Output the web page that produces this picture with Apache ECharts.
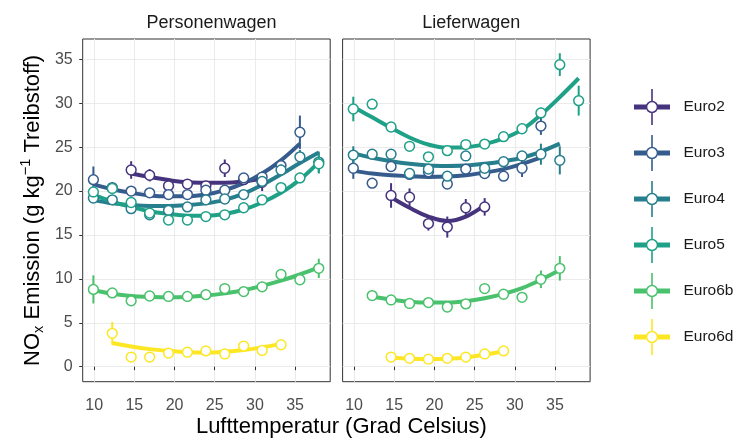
<!DOCTYPE html>
<html>
<head>
<meta charset="utf-8">
<script src="https://cdn.jsdelivr.net/npm/echarts@6/dist/echarts.min.js"></script>
<style>
html,body{margin:0;padding:0;background:#fff;}
#chart{width:744px;height:439px;}
</style>
</head>
<body>
<div id="chart"></div>
<script>
// ---- data ----
const temps = [9.9, 12.25, 14.6, 16.9, 19.25, 21.6, 23.9, 26.25, 28.6, 30.9, 33.25, 35.6, 37.95];
const classes = ['Euro2', 'Euro3', 'Euro4', 'Euro5', 'Euro6b', 'Euro6d'];
const facets = ['Personenwagen', 'Lieferwagen'];
const xTicks = [10, 15, 20, 25, 30, 35];
const yTicks = [0, 5, 10, 15, 20, 25, 30, 35];

// Personenwagen
const pwEuro2    = [null, null, 22.4, 21.8, 20.6, 20.8, 20.6, 22.6, 21.3, 21.0, null, null, null];
const pwEuro2Err = [null, null, 1.0, 0.7, 0.5, 0.5, 0.5, 1.0, 0.6, 1.0, null, null, null];
const pwEuro2Fit = [null, null, 22.0, 21.6, 21.25, 21.0, 20.95, 20.95, 21.1, 21.4, null, null, null];

const pwEuro3    = [21.3, 20.4, 20.0, 19.8, 19.6, 19.6, 20.1, 20.1, 21.5, 21.6, 22.9, 26.7, null];
const pwEuro3Err = [1.5, 0.5, 0.4, 0.4, 0.4, 0.4, 0.4, 0.5, 0.5, 0.6, 0.7, 1.9, null];
const pwEuro3Fit = [20.8, 20.2, 19.8, 19.5, 19.4, 19.4, 19.6, 20.1, 20.9, 22.0, 23.5, 25.4, null];

const pwEuro4    = [19.2, 19.0, 18.0, 17.3, 17.8, 18.2, 19.0, 19.1, 19.6, 21.1, 22.4, 23.9, 23.3];
const pwEuro4Err = [0.5, 0.4, 0.4, 0.4, 0.4, 0.4, 0.4, 0.4, 0.4, 0.5, 0.6, 0.8, 1.2];
const pwEuro4Fit = [19.0, 18.6, 18.4, 18.3, 18.3, 18.4, 18.6, 19.0, 19.7, 20.7, 21.9, 23.2, 24.4];

const pwEuro5    = [19.9, 20.3, 18.7, 17.5, 16.7, 16.7, 17.1, 17.3, 18.1, 19.0, 20.4, 21.5, 23.1];
const pwEuro5Err = [0.6, 0.5, 0.4, 0.4, 0.3, 0.3, 0.3, 0.3, 0.4, 0.4, 0.5, 0.6, 1.1];
const pwEuro5Fit = [19.6, 18.8, 18.2, 17.7, 17.4, 17.2, 17.2, 17.4, 17.9, 18.7, 19.8, 21.3, 23.3];

const pwEuro6b    = [8.8, 8.4, 7.5, 8.05, 8.0, 8.0, 8.2, 8.9, 8.55, 9.1, 10.5, 9.9, 11.2];
const pwEuro6bErr = [1.6, 0.4, 0.3, 0.3, 0.3, 0.3, 0.3, 0.3, 0.3, 0.4, 0.5, 0.5, 1.1];
const pwEuro6bFit = [8.7, 8.3, 8.05, 7.95, 7.9, 7.95, 8.1, 8.35, 8.7, 9.2, 9.8, 10.5, 11.3];

const pwEuro6d    = [null, 3.8, 1.1, 1.1, 1.55, 1.65, 1.8, 1.45, 2.35, 1.85, 2.5, null, null];
const pwEuro6dErr = [null, 1.3, 0.3, 0.3, 0.3, 0.3, 0.3, 0.3, 0.3, 0.3, 0.4, null, null];
const pwEuro6dFit = [null, 2.7, 2.3, 2.0, 1.8, 1.65, 1.6, 1.7, 1.9, 2.2, 2.6, null, null];

// Lieferwagen
const lwEuro2    = [null, null, 19.5, 19.3, 16.3, 15.9, 18.1, 18.2, null, null, null, null, null];
const lwEuro2Err = [null, null, 1.4, 1.0, 0.8, 1.2, 1.0, 1.0, null, null, null, null, null];
const lwEuro2Fit = [null, null, 19.3, 18.1, 17.1, 16.6, 17.1, 18.4, null, null, null, null, null];

const lwEuro3    = [22.6, 20.9, 22.8, 21.9, 22.2, 20.8, 22.5, 22.0, 21.7, 22.6, 27.4, null, null];
const lwEuro3Err = [1.2, 0.5, 0.4, 0.4, 0.4, 0.5, 0.4, 0.4, 0.4, 1.0, 1.0, null, null];
const lwEuro3Fit = [22.3, 22.0, 21.8, 21.7, 21.6, 21.65, 21.8, 22.1, 22.5, 23.1, 23.8, null, null];

const lwEuro4    = [24.1, 24.2, 24.2, 22.0, 22.5, 21.7, 24.0, 22.6, 23.35, 24.0, 24.2, 23.5, null];
const lwEuro4Err = [1.0, 0.4, 0.4, 0.4, 0.4, 0.4, 0.4, 0.4, 0.4, 0.5, 1.2, 1.6, null];
const lwEuro4Fit = [24.3, 23.8, 23.4, 23.1, 22.9, 22.85, 22.9, 23.1, 23.4, 23.8, 24.5, 25.4, null];

const lwEuro5    = [29.35, 29.9, 27.3, 25.1, 23.9, 24.6, 25.3, 25.35, 26.2, 27.1, 28.9, 34.4, 30.3];
const lwEuro5Err = [1.4, 0.4, 0.4, 0.4, 0.4, 0.4, 0.4, 0.4, 0.4, 0.4, 0.6, 1.3, 1.7];
const lwEuro5Fit = [29.6, 28.4, 27.2, 26.1, 25.3, 24.95, 25.0, 25.35, 26.0, 27.0, 28.7, 30.7, 32.85];

const lwEuro6b    = [null, 8.1, 7.6, 7.2, 7.3, 6.8, 7.15, 8.9, 8.25, 7.9, 9.95, 11.2, null];
const lwEuro6bErr = [null, 0.6, 0.3, 0.3, 0.3, 0.3, 0.3, 0.4, 0.4, 0.4, 1.0, 1.4, null];
const lwEuro6bFit = [null, 8.0, 7.65, 7.4, 7.3, 7.3, 7.45, 7.8, 8.3, 8.95, 9.9, 11.0, null];

const lwEuro6d    = [null, null, 1.1, 0.95, 0.85, 0.95, 1.1, 1.45, 1.8, null, null, null, null];
const lwEuro6dErr = [null, null, 0.3, 0.3, 0.3, 0.3, 0.3, 0.3, 0.4, null, null, null, null];
const lwEuro6dFit = [null, null, 1.05, 0.9, 0.85, 0.9, 1.05, 1.35, 1.75, null, null, null, null];

// ---- assemble ----
const colors = ['#46337E', '#365C8D', '#277F8E', '#1FA187', '#4AC16D', '#FDE725'];
const table = [
  [[pwEuro2, pwEuro2Err, pwEuro2Fit], [pwEuro3, pwEuro3Err, pwEuro3Fit], [pwEuro4, pwEuro4Err, pwEuro4Fit],
   [pwEuro5, pwEuro5Err, pwEuro5Fit], [pwEuro6b, pwEuro6bErr, pwEuro6bFit], [pwEuro6d, pwEuro6dErr, pwEuro6dFit]],
  [[lwEuro2, lwEuro2Err, lwEuro2Fit], [lwEuro3, lwEuro3Err, lwEuro3Fit], [lwEuro4, lwEuro4Err, lwEuro4Fit],
   [lwEuro5, lwEuro5Err, lwEuro5Fit], [lwEuro6b, lwEuro6bErr, lwEuro6bFit], [lwEuro6d, lwEuro6dErr, lwEuro6dFit]]
];

const FONT = '"Liberation Sans", Arial, Helvetica, sans-serif';
const pointSeries = [];
const lineSeries = [];
facets.forEach((f, fi) => {
  classes.forEach((c, ci) => {
    const [vals, errs, fits] = table[fi][ci];
    const col = colors[ci];
    const pts = [];
    const fitPts = [];
    temps.forEach((t, i) => {
      if (vals[i] != null) pts.push([t, vals[i], errs[i]]);
      if (fits[i] != null) fitPts.push([t, fits[i]]);
    });
    pointSeries.push({
      type: 'custom', name: c, xAxisIndex: fi, yAxisIndex: fi, z: 3,
      itemStyle: { color: col },
      encode: { x: 0, y: 1 },
      data: pts,
      renderItem: function (params, api) {
        const x = api.value(0), y = api.value(1), e = api.value(2);
        const p = api.coord([x, y]);
        const top = api.coord([x, y + e]);
        const bot = api.coord([x, y - e]);
        return {
          type: 'group',
          children: [
            { type: 'line', shape: { x1: p[0], y1: top[1], x2: p[0], y2: bot[1] }, style: { stroke: col, lineWidth: 2 } },
            { type: 'circle', shape: { cx: p[0], cy: p[1], r: 4.9 }, style: { fill: '#ffffff', stroke: col, lineWidth: 1.5 } }
          ]
        };
      }
    });
    lineSeries.push({
      type: 'line', name: c, xAxisIndex: fi, yAxisIndex: fi, z: 2,
      data: fitPts, smooth: 0.4, showSymbol: false, symbol: 'none',
      itemStyle: { color: col },
      lineStyle: { color: col, width: 4 },
      silent: true
    });
  });
});

const iconPath = 'path://M0 15.6H12.2V20.4H0Z M23.8 15.6H36V20.4H23.8Z M17.2 0H18.8V12.2H17.2Z M17.2 23.8H18.8V36H17.2Z ' +
  'M24.2 18A6.2 6.2 0 1 1 11.8 18A6.2 6.2 0 1 1 24.2 18Z M22.7 18A4.7 4.7 0 1 0 13.3 18A4.7 4.7 0 1 0 22.7 18Z';

const gridTop = 39, gridH = 342.7, gridW = 247.5;
const gridLefts = [82.7, 342.6];

function xAxisFor(i) {
  return {
    type: 'value', gridIndex: i, min: 8.57, max: 39.37,
    axisLine: { show: false },
    axisTick: { show: true, length: 3.5, customValues: xTicks, lineStyle: { color: '#333333', width: 1 } },
    axisLabel: { customValues: xTicks, color: '#4D4D4D', fontSize: 16, margin: 16, fontFamily: FONT },
    splitLine: { show: true, lineStyle: { color: '#EBEBEB', width: 1.1 } }
  };
}
function yAxisFor(i) {
  const ax = {
    type: 'value', gridIndex: i, min: -1.71, max: 37.32,
    axisLine: { show: false },
    axisTick: { show: i === 0, length: 3.5, customValues: yTicks, lineStyle: { color: '#333333', width: 1 } },
    axisLabel: { show: i === 0, customValues: yTicks, color: '#4D4D4D', fontSize: 16, margin: 10, fontFamily: FONT },
    splitLine: { show: true, lineStyle: { color: '#EBEBEB', width: 1.1 } }
  };
  if (i === 0) {
    ax.name = '{t|NO}{s|x}{t| Emission (g kg}{p|\u22121}{t| Treibstoff)}';
    ax.nameLocation = 'middle';
    ax.nameGap = 36;
    ax.nameRotate = 90;
    ax.nameTextStyle = {
      color: '#000000', fontFamily: FONT, fontSize: 22,
      rich: {
        t: { fontSize: 22, lineHeight: 28, verticalAlign: 'middle', color: '#000000', fontFamily: FONT },
        s: { fontSize: 14.5, lineHeight: 14.5, verticalAlign: 'bottom', color: '#000000', fontFamily: FONT },
        p: { fontSize: 14.5, lineHeight: 14.5, verticalAlign: 'top', color: '#000000', fontFamily: FONT }
      }
    };
  }
  return ax;
}

const option = {
  animation: false,
  backgroundColor: '#ffffff',
  textStyle: { fontFamily: FONT },
  title: [
    { text: facets[0], left: gridLefts[0] + gridW / 2, top: 9, textAlign: 'center',
      textStyle: { fontSize: 18, fontWeight: 'normal', color: '#1A1A1A', fontFamily: FONT } },
    { text: facets[1], left: gridLefts[1] + gridW / 2, top: 9, textAlign: 'center',
      textStyle: { fontSize: 18, fontWeight: 'normal', color: '#1A1A1A', fontFamily: FONT } },
    { text: 'Lufttemperatur (Grad Celsius)', left: (gridLefts[0] + gridLefts[1] + gridW) / 2, top: 411, textAlign: 'center',
      textStyle: { fontSize: 22, fontWeight: 'normal', color: '#000000', fontFamily: FONT } }
  ],
  legend: {
    orient: 'vertical', left: 629, top: 84,
    itemWidth: 37, itemHeight: 36, itemGap: 10,
    selectedMode: false,
    textStyle: { fontSize: 15.5, color: '#1A1A1A', fontFamily: FONT, padding: [0, 0, 0, 8] },
    data: classes.map((c, i) => ({ name: c, icon: iconPath, itemStyle: { color: colors[i], borderWidth: 0 } }))
  },
  grid: gridLefts.map(l => ({
    left: l, top: gridTop, width: gridW, height: gridH,
    show: true, borderColor: '#333333', borderWidth: 1, backgroundColor: 'transparent'
  })),
  xAxis: [xAxisFor(0), xAxisFor(1)],
  yAxis: [yAxisFor(0), yAxisFor(1)],
  series: pointSeries.concat(lineSeries)
};

const chart = echarts.init(document.getElementById('chart'), null, { renderer: 'canvas' });
chart.setOption(option);
</script>
</body>
</html>
